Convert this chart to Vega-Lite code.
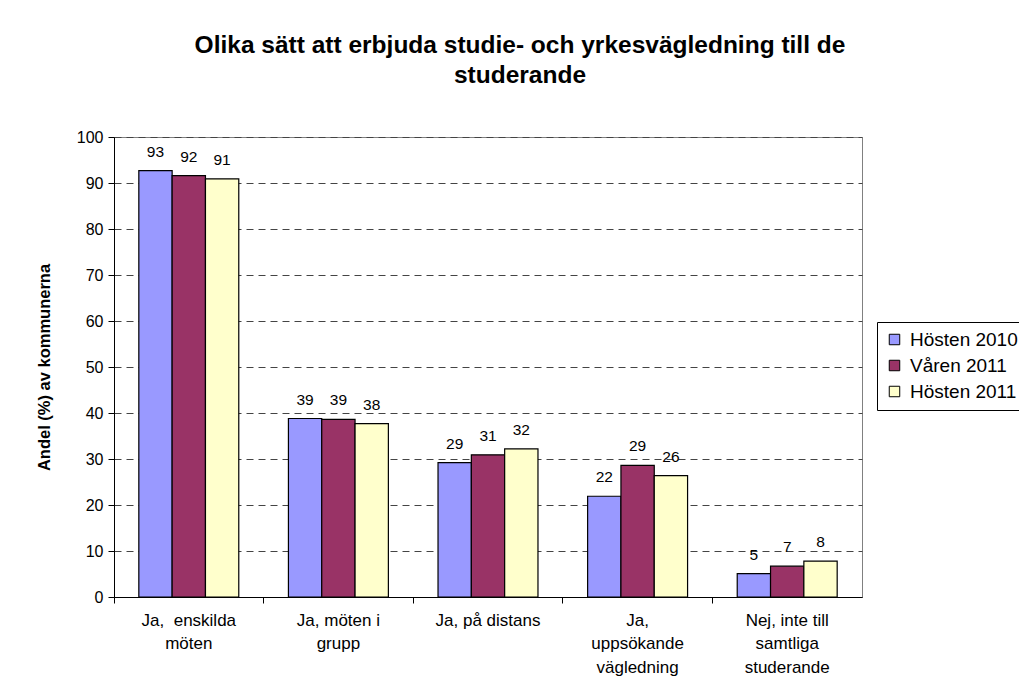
{
  "$schema": "https://vega.github.io/schema/vega-lite/v6.json",
  "autosize": "none",
  "width": 748,
  "height": 460,
  "padding": {"left": 114, "top": 137, "right": 157, "bottom": 98},
  "background": "white",
  "title": {
    "text": ["Olika sätt att erbjuda studie- och yrkesvägledning till de", "studerande"],
    "font": "Liberation Sans",
    "fontSize": 24.5,
    "fontWeight": "bold",
    "lineHeight": 30,
    "color": "black",
    "anchor": "middle",
    "frame": "group",
    "dx": 32,
    "offset": 41
  },
  "data": {
    "values": [
      {"kategori": "Ja,  enskilda möten", "period": "Hösten 2010", "andel": 92.7},
      {"kategori": "Ja,  enskilda möten", "period": "Våren 2011", "andel": 91.6},
      {"kategori": "Ja,  enskilda möten", "period": "Hösten 2011", "andel": 90.9},
      {"kategori": "Ja, möten i grupp", "period": "Hösten 2010", "andel": 38.8},
      {"kategori": "Ja, möten i grupp", "period": "Våren 2011", "andel": 38.6},
      {"kategori": "Ja, möten i grupp", "period": "Hösten 2011", "andel": 37.7},
      {"kategori": "Ja, på distans", "period": "Hösten 2010", "andel": 29.2},
      {"kategori": "Ja, på distans", "period": "Våren 2011", "andel": 30.9},
      {"kategori": "Ja, på distans", "period": "Hösten 2011", "andel": 32.2},
      {"kategori": "Ja, uppsökande vägledning", "period": "Hösten 2010", "andel": 21.9},
      {"kategori": "Ja, uppsökande vägledning", "period": "Våren 2011", "andel": 28.6},
      {"kategori": "Ja, uppsökande vägledning", "period": "Hösten 2011", "andel": 26.4},
      {"kategori": "Nej, inte till samtliga studerande", "period": "Hösten 2010", "andel": 5.1},
      {"kategori": "Nej, inte till samtliga studerande", "period": "Våren 2011", "andel": 6.7},
      {"kategori": "Nej, inte till samtliga studerande", "period": "Hösten 2011", "andel": 7.8}
    ]
  },
  "encoding": {
    "x": {
      "field": "kategori",
      "type": "nominal",
      "sort": null,
      "scale": {"paddingInner": 0, "paddingOuter": 0},
      "axis": {
        "title": null,
        "labelAngle": 0,
        "bandPosition": 0,
        "domainColor": "black",
        "tickColor": "black",
        "tickSize": 6,
        "labelFont": "Liberation Sans",
        "labelFontSize": 17,
        "labelColor": "black",
        "labelPadding": 9,
        "labelBaseline": "top",
        "labelLineHeight": 23.5,
        "labelExpr": "datum.value == 'Ja,  enskilda möten' ? ['Ja,\u00a0\u00a0enskilda', 'möten'] : datum.value == 'Ja, möten i grupp' ? ['Ja, möten i', 'grupp'] : datum.value == 'Ja, uppsökande vägledning' ? ['Ja,', 'uppsökande', 'vägledning'] : datum.value == 'Nej, inte till samtliga studerande' ? ['Nej, inte till', 'samtliga', 'studerande'] : datum.value",
        "labelBound": false,
        "labelOverlap": false
      }
    },
    "xOffset": {
      "field": "period",
      "type": "nominal",
      "sort": ["Hösten 2010", "Våren 2011", "Hösten 2011"],
      "scale": {"paddingInner": 0, "paddingOuter": 0.745}
    },
    "y": {
      "field": "andel",
      "type": "quantitative",
      "scale": {"domain": [0, 100], "nice": false},
      "axis": {
        "title": "Andel (%) av kommunerna",
        "titleFont": "Liberation Sans",
        "titleFontSize": 16.5,
        "titleFontWeight": "bold",
        "titleColor": "black",
        "titlePadding": 24,
        "values": [0, 10, 20, 30, 40, 50, 60, 70, 80, 90, 100],
        "labelFont": "Liberation Sans",
        "labelFontSize": 16,
        "labelColor": "black",
        "labelPadding": 5,
        "tickSize": 6,
        "tickColor": "black",
        "domainColor": "black",
        "grid": true,
        "gridColor": "#444444",
        "gridDash": [7, 5],
        "gridWidth": 1
      }
    }
  },
  "layer": [
    {
      "mark": {"type": "bar", "stroke": "black", "strokeWidth": 1.2},
      "encoding": {
        "color": {
          "field": "period",
          "type": "nominal",
          "sort": ["Hösten 2010", "Våren 2011", "Hösten 2011"],
          "scale": {"domain": ["Hösten 2010", "Våren 2011", "Hösten 2011"], "range": ["#9999FF", "#993366", "#FFFFCC"]},
          "legend": {
            "title": null,
            "orient": "none",
            "legendX": 763,
            "legendY": 185,
            "strokeColor": "black",
            "fillColor": "white",
            "padding": 8,
            "symbolType": "square",
            "symbolSize": 110,
            "symbolStrokeColor": "black",
            "symbolStrokeWidth": 1,
            "symbolOpacity": 1,
            "labelFont": "Liberation Sans",
            "labelFontSize": 19,
            "labelColor": "black",
            "labelOffset": 6,
            "labelLimit": 300,
            "rowPadding": 6
          }
        }
      }
    },
    {
      "mark": {"type": "text", "baseline": "middle", "dy": -19, "font": "Liberation Sans", "fontSize": 15.5, "color": "black"},
      "encoding": {
        "text": {"field": "andel", "type": "quantitative", "format": ".0f"}
      }
    }
  ],
  "config": {
    "view": {"stroke": "#808080", "strokeWidth": 1},
    "axis": {"gridDash": [7, 5]}
  }
}
